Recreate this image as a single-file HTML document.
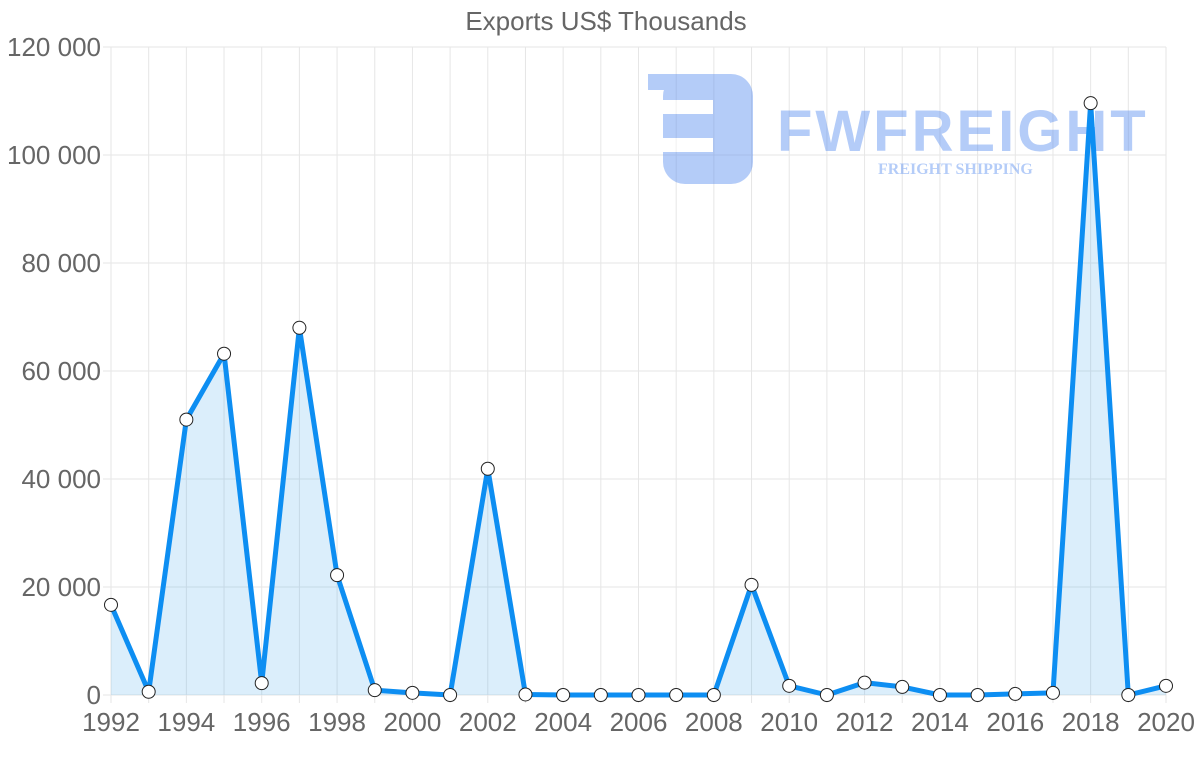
<!DOCTYPE html>
<html><head><meta charset="utf-8"><style>
body{margin:0;background:#fff;}
svg{display:block;font-family:"Liberation Sans",sans-serif;}
</style></head><body>
<svg width="1200" height="763" viewBox="0 0 1200 763" xmlns="http://www.w3.org/2000/svg">
<text x="606" y="30" text-anchor="middle" font-size="26" fill="#666">Exports US$ Thousands</text>
<g stroke="#e6e6e6" stroke-width="1" id="grid"></g>
<g id="wm" opacity="0.45">
<rect x="663" y="74" width="90" height="110" rx="22" fill="#5b8ff0"/>
<rect x="648" y="74" width="60" height="16" fill="#5b8ff0"/>
<rect x="663" y="100" width="50" height="14" fill="#fff"/>
<rect x="663" y="138" width="50" height="14" fill="#fff"/>
<text x="777" y="151" font-size="58" font-weight="bold" fill="#5b8ff0" letter-spacing="3">FWFREIGHT</text>
<text x="878" y="174" font-size="16" font-weight="bold" font-family="Liberation Serif,serif" fill="#5b8ff0">FREIGHT SHIPPING</text>
</g>
<g id="axes" font-size="26" fill="#666"></g>
<path id="area" fill="rgba(54,162,235,0.18)" stroke="none"/>
<path id="line" fill="none" stroke="#0d8ef2" stroke-width="5" stroke-linejoin="round"/>
<g id="pts"></g>
</svg>
<script>
var d=[16700,600,51000,63200,2200,68000,22200,900,400,0,41900,100,0,0,0,0,0,20400,1700,0,2300,1500,0,0,200,400,109600,0,1700];
var x0=111,x1=1166,y0=695,y1=47,ns="http://www.w3.org/2000/svg";
function X(i){return x0+(x1-x0)*i/28}function Y(v){return y0-(y0-y1)*v/120000}
var g=document.getElementById('grid'),a=document.getElementById('axes');
function el(p,t,at){var e=document.createElementNS(ns,t);for(var k in at)e.setAttribute(k,at[k]);p.appendChild(e);return e}
for(var i=0;i<=28;i++)el(g,'line',{x1:X(i),x2:X(i),y1:y1,y2:y0+8});
for(var j=0;j<=6;j++){var y=Y(j*20000);el(g,'line',{x1:x0-8,x2:x1,y1:y,y2:y});
var t=el(a,'text',{x:101,y:y+9,'text-anchor':'end'});t.textContent=j==0?'0':(j*20)+' 000';}
for(var i=0;i<=28;i+=2){var t=el(a,'text',{x:X(i),y:731,'text-anchor':'middle'});t.textContent=1992+i;}
var p='';d.forEach(function(v,i){p+=(i?'L':'M')+X(i)+' '+Y(v)});
document.getElementById('line').setAttribute('d',p);
document.getElementById('area').setAttribute('d',p+'L'+X(28)+' '+y0+'L'+X(0)+' '+y0+'Z');
var pts=document.getElementById('pts');
d.forEach(function(v,i){el(pts,'circle',{cx:X(i),cy:Y(v),r:6.5,fill:'#fff',stroke:'#222','stroke-width':1})});
</script>
</body></html>
